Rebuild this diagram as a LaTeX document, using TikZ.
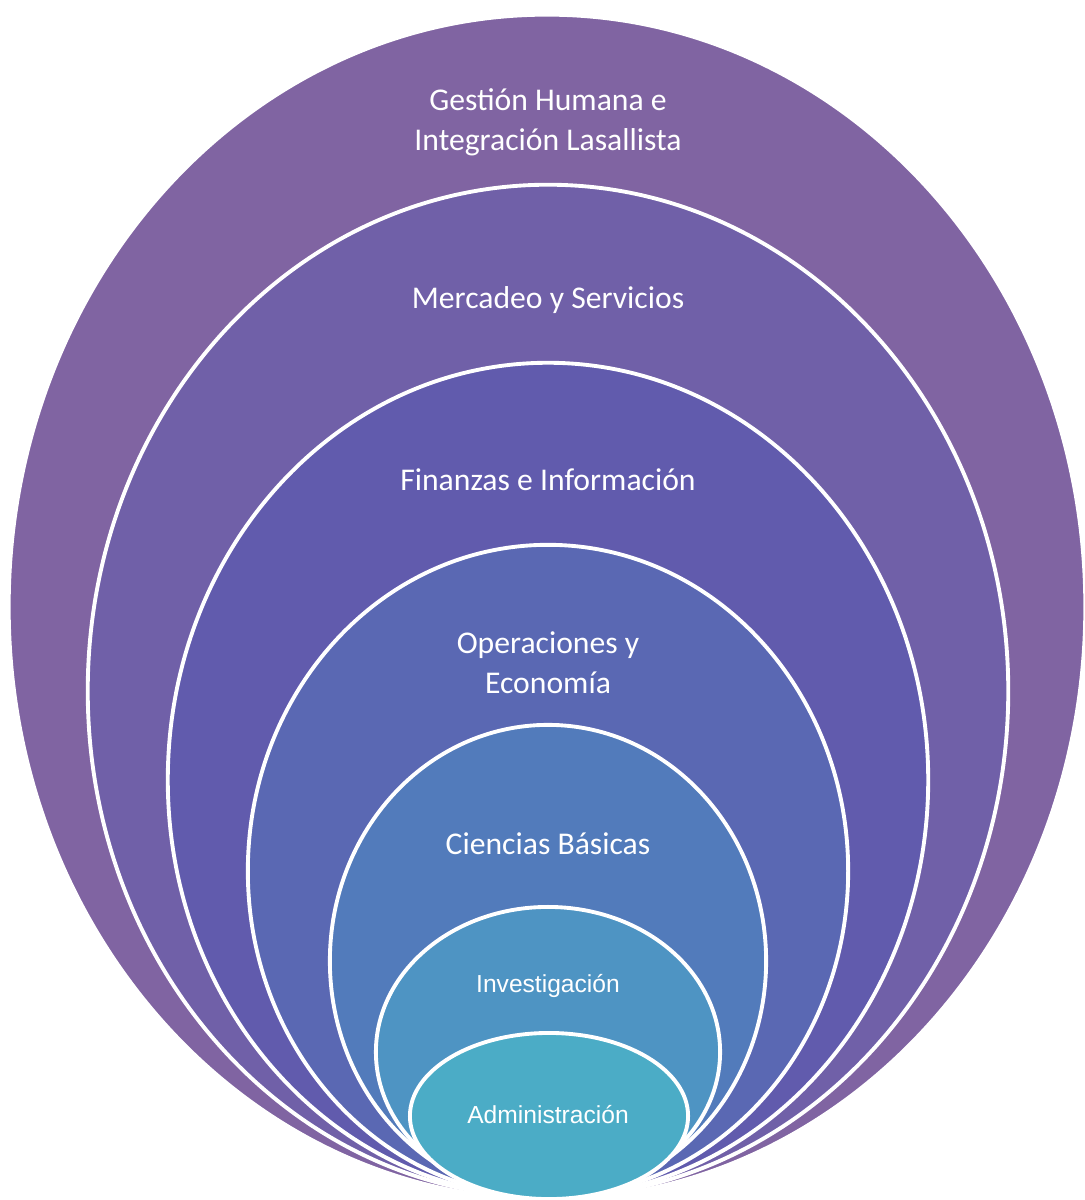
\documentclass[tikz,border=0pt]{standalone}
\usepackage{fontspec}
\usepackage{tikz}
\usetikzlibrary{shapes.geometric}
\newfontfamily\carlito{Carlito}
\newfontfamily\liber{Liberation Sans}
\definecolor{ringA}{HTML}{8064A2}
\definecolor{ringB}{HTML}{7060A8}
\definecolor{ringC}{HTML}{615BAD}
\definecolor{ringD}{HTML}{5A68B3}
\definecolor{ringE}{HTML}{527BBB}
\definecolor{ringF}{HTML}{4E94C3}
\definecolor{ringG}{HTML}{4BACC6}
\tikzstyle{ring}=[ellipse, draw=white, line width=1.1pt, inner sep=0pt, outer sep=0pt]
\tikzstyle{bigtext}=[text=white, font=\carlito\fontsize{9}{11.4}\selectfont, align=center]
\tikzstyle{smalltext}=[text=white, font=\liber\fontsize{7}{8.4}\selectfont, align=center]

\begin{document}
\begin{tikzpicture}[x=0.01cm, y=-0.01cm]
    \useasboundingbox (0,0) rectangle (1085,1200);
    \begin{scope}
        \node (gestion) at (547, 607)[ring, fill=ringA, minimum width=10.76cm, minimum height=11.84cm] {};
        \node (mercadeo) at (548, 691)[ring, fill=ringB, minimum width=9.20cm, minimum height=10.12cm] {};
        \node (finanzas) at (548, 780)[ring, fill=ringC, minimum width=7.60cm, minimum height=8.34cm] {};
        \node (operaciones) at (548, 871)[ring, fill=ringD, minimum width=6.00cm, minimum height=6.52cm] {};
        \node (ciencias) at (548, 961)[ring, fill=ringE, minimum width=4.36cm, minimum height=4.72cm] {};
        \node (investigacion) at (548, 1052)[ring, fill=ringF, minimum width=3.44cm, minimum height=2.90cm] {};
        \node (administracion) at (549, 1116)[ring, fill=ringG, minimum width=2.78cm, minimum height=1.66cm] {};
    \end{scope}
    \begin{scope}
        \node (t-gestion) at (548, 122)[bigtext] {Gestión Humana e\\Integración Lasallista};
        \node (t-mercadeo) at (548, 300)[bigtext] {Mercadeo y Servicios};
        \node (t-finanzas) at (548, 480)[bigtext] {Finanzas e Información};
        \node (t-operaciones) at (548, 663)[bigtext] {Operaciones y\\Economía};
        \node (t-ciencias) at (548, 844)[bigtext] {Ciencias Básicas};
        \node (t-investigacion) at (548, 986)[smalltext] {Investigación};
        \node (t-administracion) at (548, 1115)[smalltext] {Administración};
    \end{scope}
\end{tikzpicture}
\end{document}
